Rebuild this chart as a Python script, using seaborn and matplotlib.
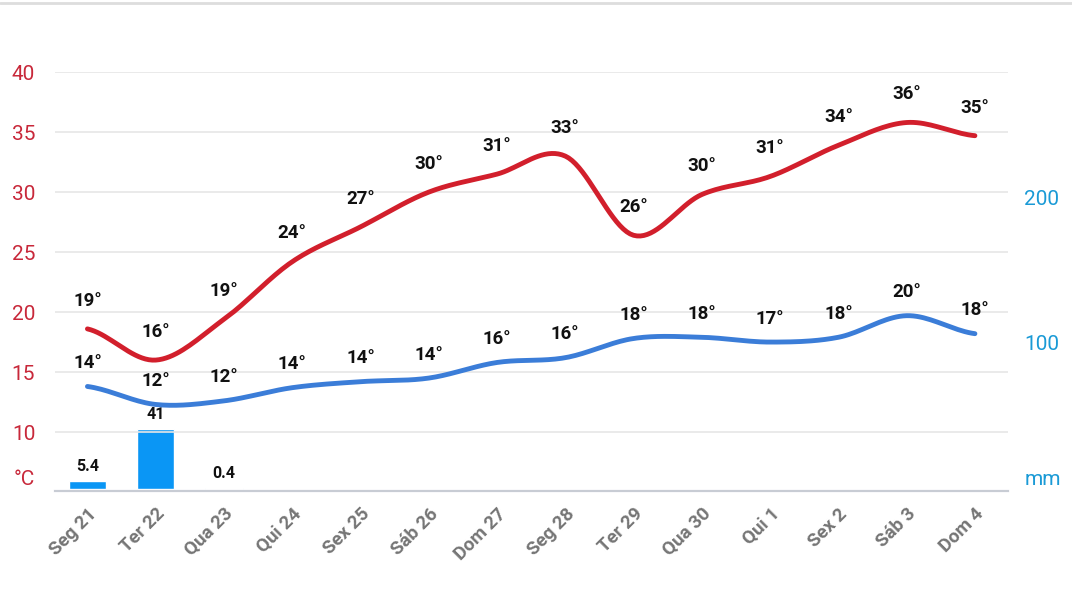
import numpy as np
import pandas as pd
import matplotlib
matplotlib.use("Agg")
import matplotlib.pyplot as plt
import seaborn as sns

days = ["Seg 21", "Ter 22", "Qua 23", "Qui 24", "Sex 25", "Sáb 26", "Dom 27",
        "Seg 28", "Ter 29", "Qua 30", "Qui 1", "Sex 2", "Sáb 3", "Dom 4"]
t_max = [19, 16, 19, 24, 27, 30, 31, 33, 26, 30, 31, 34, 36, 35]
t_min = [14, 12, 12, 14, 14, 14, 16, 16, 18, 18, 17, 18, 20, 18]
# line positions as drawn (values before rounding)
t_max_line = [18.6, 16.0, 19.4, 24.2, 27.1, 30.0, 31.5, 33.0, 26.4, 29.8, 31.3, 33.9, 35.8, 34.7]
t_min_line = [13.8, 12.3, 12.6, 13.7, 14.2, 14.5, 15.8, 16.2, 17.8, 17.9, 17.5, 17.9, 19.7, 18.2]
rain = [5.4, 41, 0.4, 0, 0, 0, 0, 0, 0, 0, 0, 0, 0, 0]
rain_labels = ["5.4", "41", "0.4"]

RED = "#d21f2c"
BLUE = "#3b7dd8"
BAR = "#0a96f5"
TICK_RED = "#c8283a"
TICK_BLUE = "#1a9ad6"


def smooth(y, n=20):
    # Catmull-Rom curve through the points, for drawing only
    y = np.asarray(y, float)
    p = np.concatenate([[y[0]], y, [y[-1]]])
    xs, ys = [], []
    for i in range(len(y) - 1):
        t = np.linspace(0, 1, n, endpoint=False)
        p0, p1, p2, p3 = p[i], p[i + 1], p[i + 2], p[i + 3]
        ys.append(0.5 * (2 * p1 + (-p0 + p2) * t + (2 * p0 - 5 * p1 + 4 * p2 - p3) * t ** 2
                         + (-p0 + 3 * p1 - 3 * p2 + p3) * t ** 3))
        xs.append(i + t)
    xs.append([len(y) - 1])
    ys.append([y[-1]])
    return np.concatenate(xs), np.concatenate(ys)


sns.set_style("white")
plt.rcParams["font.family"] = ["Roboto", "DejaVu Sans"]

fig = plt.figure(figsize=(10.72, 6.06), dpi=100)
ax = fig.add_axes([0.051, 0.19, 0.889, 0.691])
ax2 = ax.twinx()

x = np.arange(len(days))
ax2.bar(x, rain, width=0.55, color=BAR, zorder=2)
for i, lab in enumerate(rain_labels):
    ax2.text(i, rain[i] + 5, lab, ha="center", va="bottom", fontsize=11.5,
             fontweight="bold", color="#111111")
ax2.set_ylim(-1.4, 285.6)
ax2.set_yticks([100, 200, 7.5])
ax2.set_yticklabels(["100", "200", "mm"])

ax.set_zorder(ax2.get_zorder() + 1)
ax.patch.set_visible(False)

sx, sy = smooth(t_max_line)
sns.lineplot(x=sx, y=sy, ax=ax, color=RED, lw=3.5, sort=False)
sx, sy = smooth(t_min_line)
sns.lineplot(x=sx, y=sy, ax=ax, color=BLUE, lw=3.5, sort=False)

for i in x:
    ax.text(i, t_max_line[i] + 1.6, f"{t_max[i]}°", ha="center", va="bottom",
            fontsize=13.5, fontweight="bold", color="#111111")
    ax.text(i, t_min_line[i] + 1.2, f"{t_min[i]}°", ha="center", va="bottom",
            fontsize=13.5, fontweight="bold", color="#111111")

ax.set_xlim(-0.48, 13.48)
ax.set_ylim(5.1, 40)
ax.set_yticks([6.2, 10, 15, 20, 25, 30, 35, 40])
ax.set_yticklabels(["°C", "10", "15", "20", "25", "30", "35", "40"])
for v in [10, 15, 20, 25, 30, 35, 40]:
    ax.axhline(v, color="#e6e6e6", lw=1.2, zorder=0)

ax.set_xticks(x)
ax.set_xticklabels(days, rotation=45, ha="right", rotation_mode="anchor",
                   fontsize=13.5, fontweight="bold", color="#757575")
ax.tick_params(axis="x", length=6, color="#c8ccd4", pad=4)
ax.tick_params(axis="y", length=0, labelsize=15, labelcolor=TICK_RED, pad=14)
ax2.tick_params(axis="y", length=0, labelsize=15, labelcolor=TICK_BLUE, pad=12)

for a in (ax, ax2):
    for s in ("top", "left", "right"):
        a.spines[s].set_visible(False)
    a.spines["bottom"].set_color("#c8ccd4")
    a.spines["bottom"].set_linewidth(1.5)

fig.add_artist(plt.Line2D([0, 1], [0.995, 0.995], color="#dddddd", lw=2))

fig.savefig("out.png", dpi=100)
